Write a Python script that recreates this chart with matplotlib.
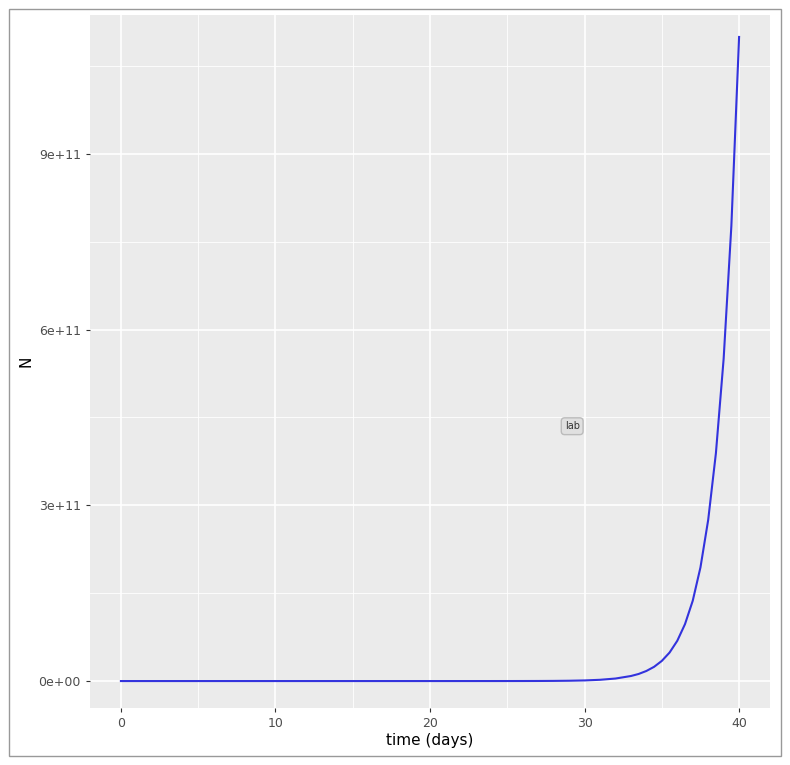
import matplotlib.pyplot as plt
from matplotlib.patches import Rectangle

# population (daily, plus half days on the steep part)
days = list(range(34)) + [33.5, 34, 34.5, 35, 35.5, 36, 36.5, 37, 37.5, 38, 38.5, 39, 39.5, 40]
N = [1, 2, 4, 8, 16, 32, 64, 128, 256, 512, 1024, 2048, 4096, 8192, 16384,
     32768, 65536, 131072, 262144, 524288, 1.05e6, 2.1e6, 4.2e6, 8.4e6, 1.68e7,
     3.36e7, 6.7e7, 1.34e8, 2.68e8, 5.37e8, 1.07e9, 2.15e9, 4.3e9, 8.6e9,
     1.21e10, 1.72e10, 2.43e10, 3.44e10, 4.86e10, 6.87e10, 9.72e10, 1.37e11,
     1.94e11, 2.75e11, 3.89e11, 5.5e11, 7.77e11, 1.0995e12]
yticks = [0, 3e11, 6e11, 9e11]
ytick_labels = ['0e+00', '3e+11', '6e+11', '9e+11']
xticks = [0, 10, 20, 30, 40]

fig = plt.figure(figsize=(7.9, 7.65), dpi=100)
fig.patches.append(Rectangle((0.012, 0.012), 0.976, 0.976, transform=fig.transFigure,
                             fill=False, edgecolor='#999999', linewidth=1))
ax = fig.add_axes([90/790, 57/765, 680/790, 693/765])
ax.set_facecolor('#EBEBEB')
for s in ax.spines.values():
    s.set_visible(False)

ax.set_xlim(-2, 42)
ax.set_ylim(-0.046e12, 1.137e12)
ax.set_xticks(xticks)
ax.set_xticks([5, 15, 25, 35], minor=True)
ax.set_yticks(yticks)
ax.set_yticklabels(ytick_labels)
ax.set_yticks([1.5e11, 4.5e11, 7.5e11, 10.5e11], minor=True)
ax.grid(which='major', color='white', linewidth=1.2)
ax.grid(which='minor', color='white', linewidth=0.6)
ax.set_axisbelow(True)
ax.tick_params(which='major', length=3, color='#333333', labelsize=9, labelcolor='#4D4D4D')
ax.tick_params(which='minor', length=0)

ax.plot(days, N, color='#3333DD', linewidth=1.5)
ax.text(29.2, 4.35e11, 'lab', fontsize=7, ha='center', va='center', color='#333333',
        bbox=dict(boxstyle='round,pad=0.35', facecolor='#E0E0E0', edgecolor='#BBBBBB'))

ax.set_xlabel('time (days)', fontsize=11, labelpad=2)
ax.set_ylabel('N', fontsize=11)

fig.savefig('out.png', dpi=100)
